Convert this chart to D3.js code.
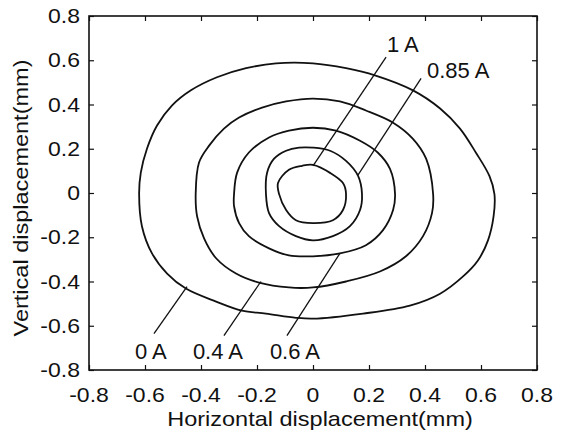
<!DOCTYPE html>
<html lang="en">
<head>
    <meta charset="UTF-8">
    <title>Displacement contours</title>
    <script src="https://cdn.jsdelivr.net/npm/d3@7"></script>
    <style>
        body { margin: 0; background: #fff; }
        text { font-family: "Liberation Sans", Arial, sans-serif; fill: #111; }
    </style>
</head>
<body>
<div id="mainContent"></div>
<script>
    // contour rings, [x, y] in mm
    const ring0A = [[-0.621, -0.005], [-0.615, 0.092], [-0.593, 0.2], [-0.557, 0.305], [-0.504, 0.395],
        [-0.436, 0.464], [-0.343, 0.523], [-0.239, 0.564], [-0.132, 0.586], [0, 0.586], [0.118, 0.564],
        [0.221, 0.532], [0.357, 0.464], [0.454, 0.382], [0.525, 0.291], [0.582, 0.182], [0.63, 0.077],
        [0.648, -0.005], [0.645, -0.105], [0.625, -0.214], [0.589, -0.305], [0.536, -0.377], [0.454, -0.455],
        [0.346, -0.509], [0.179, -0.545], [0, -0.568], [-0.061, -0.564], [-0.168, -0.545], [-0.254, -0.532],
        [-0.346, -0.491], [-0.454, -0.432], [-0.521, -0.364], [-0.575, -0.273], [-0.611, -0.15]];
    const ring04A = [[-0.419, -0.005], [-0.407, 0.138], [-0.371, 0.214], [-0.318, 0.291], [-0.264, 0.341],
        [-0.182, 0.386], [-0.096, 0.414], [0, 0.427], [0.096, 0.414], [0.189, 0.373], [0.286, 0.318],
        [0.357, 0.245], [0.404, 0.155], [0.429, -0.005], [0.425, -0.091], [0.393, -0.195], [0.332, -0.286],
        [0.239, -0.355], [0.118, -0.4], [0, -0.427], [-0.086, -0.427], [-0.193, -0.405], [-0.275, -0.364],
        [-0.346, -0.295], [-0.389, -0.205], [-0.414, -0.105]];
    const ring06A = [[-0.282, -0.005], [-0.271, 0.092], [-0.229, 0.183], [-0.157, 0.251], [-0.086, 0.282],
        [0, 0.295], [0.082, 0.282], [0.168, 0.236], [0.232, 0.182], [0.275, 0.109], [0.293, -0.005],
        [0.286, -0.077], [0.25, -0.168], [0.189, -0.236], [0.096, -0.273], [0, -0.286], [-0.086, -0.282],
        [-0.157, -0.25], [-0.229, -0.195], [-0.264, -0.136], [-0.282, -0.059]];
    const ring085A = [[-0.168, -0.005], [-0.164, 0.092], [-0.139, 0.155], [-0.096, 0.191], [-0.05, 0.205],
        [0, 0.205], [0.061, 0.191], [0.118, 0.145], [0.161, 0.077], [0.175, -0.005], [0.168, -0.077],
        [0.132, -0.15], [0.071, -0.195], [0, -0.214], [-0.061, -0.195], [-0.121, -0.15], [-0.157, -0.091]];
    const ring1A = [[-0.121, -0.005], [-0.125, 0.045], [-0.086, 0.105], [-0.039, 0.123], [0, 0.127],
        [0.061, 0.091], [0.107, 0.045], [0.118, -0.005], [0.107, -0.077], [0.071, -0.123], [0, -0.136],
        [-0.061, -0.123], [-0.096, -0.077]];

    const rings = [ring0A, ring04A, ring06A, ring085A, ring1A];

    // labels: text, label anchor, leader line start and end (mm)
    const labelText = ["1 A", "0.85 A", "0 A", "0.4 A", "0.6 A"];
    const labelAt = [[0.264, 0.636], [0.407, 0.518], [-0.636, -0.75], [-0.429, -0.75], [-0.154, -0.75]];
    const leaderFrom = [[0.261, 0.614], [0.386, 0.518], [-0.568, -0.636], [-0.318, -0.645], [-0.093, -0.645]];
    const leaderTo = [[0, 0.123], [0.161, 0.082], [-0.45, -0.423], [-0.186, -0.4], [0.096, -0.273]];

    const xTicks = [-0.8, -0.6, -0.4, -0.2, 0, 0.2, 0.4, 0.6, 0.8];
    const yTicks = [-0.8, -0.6, -0.4, -0.2, 0, 0.2, 0.4, 0.6, 0.8];

    const W = 569, H = 438;
    const plot = {left: 89, right: 537, top: 16, bottom: 370};

    const x = d3.scaleLinear().domain([-0.8, 0.8]).range([plot.left, plot.right]);
    const y = d3.scaleLinear().domain([-0.8, 0.8]).range([plot.bottom, plot.top]);

    // plain hyphen for negatives, like the original figure
    const fmt = d => d === 0 ? "0" : d.toFixed(1);

    const svg = d3.select("#mainContent").append("svg")
        .attr("width", W).attr("height", H);

    // inward ticks on all four sides
    function tickGroup(axis, vals, tr) {
        const g = svg.append("g").attr("transform", tr)
            .call(axis.tickValues(vals).tickSizeInner(-5).tickSizeOuter(0));
        g.select(".domain").remove();
        g.selectAll(".tick text").remove();
        g.selectAll(".tick line").attr("stroke", "#111").attr("stroke-width", 1.2);
    }
    tickGroup(d3.axisBottom(x), xTicks, "translate(0," + plot.bottom + ")");
    tickGroup(d3.axisTop(x), xTicks, "translate(0," + plot.top + ")");
    tickGroup(d3.axisLeft(y), yTicks, "translate(" + plot.left + ",0)");
    tickGroup(d3.axisRight(y), yTicks, "translate(" + plot.right + ",0)");

    // tick labels
    svg.selectAll(".xlab").data(xTicks).enter().append("text")
        .attr("class", "xlab")
        .attr("transform", d => "translate(" + x(d) + ",402) scale(1.15,1)")
        .attr("text-anchor", "middle")
        .attr("font-size", 20)
        .text(fmt);
    svg.selectAll(".ylab").data(yTicks).enter().append("text")
        .attr("class", "ylab")
        .attr("transform", d => "translate(80," + (y(d) + 7) + ") scale(1.15,1)")
        .attr("text-anchor", "end")
        .attr("font-size", 20)
        .text(fmt);

    // frame
    svg.append("rect")
        .attr("x", plot.left).attr("y", plot.top)
        .attr("width", plot.right - plot.left).attr("height", plot.bottom - plot.top)
        .attr("fill", "none").attr("stroke", "#111").attr("stroke-width", 1.6);

    // contours
    const line = d3.line()
        .x(d => x(d[0]))
        .y(d => y(d[1]))
        .curve(d3.curveCatmullRomClosed.alpha(0.5));

    svg.append("g").selectAll("path").data(rings).enter().append("path")
        .attr("d", line)
        .attr("fill", "none")
        .attr("stroke", "#111")
        .attr("stroke-width", 1.8);

    // leader lines
    svg.append("g").selectAll("line").data(labelText).enter().append("line")
        .attr("x1", (d, i) => x(leaderFrom[i][0]))
        .attr("y1", (d, i) => y(leaderFrom[i][1]))
        .attr("x2", (d, i) => x(leaderTo[i][0]))
        .attr("y2", (d, i) => y(leaderTo[i][1]))
        .attr("stroke", "#111")
        .attr("stroke-width", 1.3);

    svg.append("g").selectAll("text").data(labelText).enter().append("text")
        .attr("x", (d, i) => x(labelAt[i][0]))
        .attr("y", (d, i) => y(labelAt[i][1]))
        .attr("font-size", 22)
        .text(d => d);

    // axis titles
    svg.append("text")
        .attr("transform", "translate(320,426) scale(1.12,1)")
        .attr("text-anchor", "middle")
        .attr("font-size", 21)
        .text("Horizontal displacement(mm)");

    svg.append("text")
        .attr("transform", "translate(28,198) rotate(-90) scale(1.12,1)")
        .attr("text-anchor", "middle")
        .attr("font-size", 21)
        .text("Vertical displacement(mm)");
</script>
</body>
</html>
